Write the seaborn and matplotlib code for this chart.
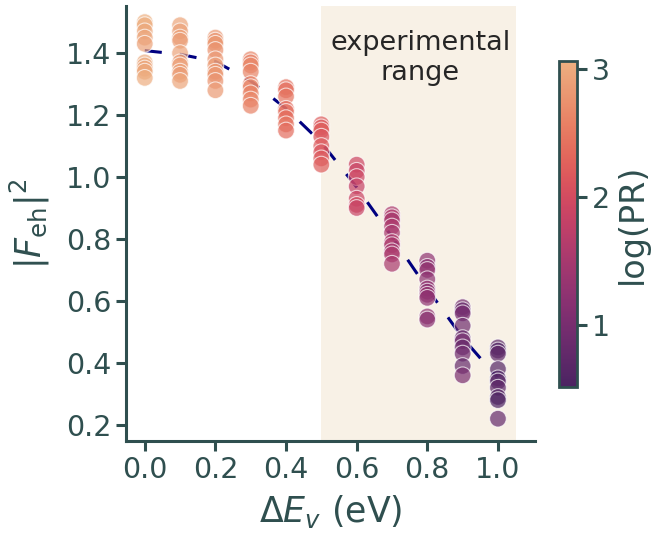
import numpy as np
import pandas as pd
import matplotlib
matplotlib.use("Agg")
import matplotlib.pyplot as plt
import seaborn as sns

# valence band offset values (eV)
delta_ev = [0.0, 0.1, 0.2, 0.3, 0.4, 0.5, 0.6, 0.7, 0.8, 0.9, 1.0]

# |F_eh|^2 samples for each offset
f_eh = [
    [1.50, 1.49, 1.47, 1.45, 1.43, 1.37, 1.36, 1.35, 1.34, 1.32],
    [1.49, 1.47, 1.45, 1.44, 1.40, 1.37, 1.36, 1.34, 1.33, 1.31],
    [1.45, 1.44, 1.43, 1.41, 1.38, 1.36, 1.34, 1.33, 1.31, 1.28],
    [1.38, 1.37, 1.36, 1.34, 1.30, 1.29, 1.27, 1.25, 1.23],
    [1.29, 1.28, 1.26, 1.22, 1.21, 1.19, 1.17, 1.15],
    [1.17, 1.16, 1.15, 1.13, 1.10, 1.08, 1.06, 1.04],
    [1.04, 1.02, 1.00, 0.97, 0.93, 0.91, 0.90],
    [0.88, 0.87, 0.86, 0.84, 0.82, 0.79, 0.78, 0.76, 0.75, 0.72],
    [0.73, 0.71, 0.70, 0.67, 0.64, 0.63, 0.62, 0.61, 0.55, 0.54],
    [0.58, 0.57, 0.56, 0.52, 0.48, 0.47, 0.45, 0.43, 0.39, 0.36],
    [0.45, 0.44, 0.43, 0.38, 0.35, 0.34, 0.32, 0.29, 0.28, 0.22],
]

# log(PR) for each sample (colour)
log_pr = [
    [3.06, 3.02, 2.98, 2.95, 2.92, 3.00, 2.97, 2.94, 2.99, 3.03],
    [2.95, 2.92, 2.90, 2.88, 2.93, 2.85, 2.89, 2.91, 2.86, 2.94],
    [2.80, 2.78, 2.82, 2.75, 2.79, 2.84, 2.77, 2.81, 2.76, 2.83],
    [2.62, 2.58, 2.66, 2.60, 2.55, 2.64, 2.59, 2.63, 2.57],
    [2.42, 2.38, 2.45, 2.35, 2.40, 2.37, 2.44, 2.36],
    [2.20, 2.15, 2.22, 2.12, 2.18, 2.10, 2.16, 2.21],
    [1.90, 1.85, 1.93, 1.82, 1.88, 1.95, 1.86],
    [1.55, 1.60, 1.50, 1.58, 1.52, 1.62, 1.56, 1.48, 1.57, 1.53],
    [1.25, 1.18, 1.30, 1.22, 1.28, 1.20, 1.32, 1.24, 1.27, 1.19],
    [0.95, 0.82, 1.00, 0.90, 0.78, 0.97, 0.85, 0.92, 0.80, 1.02],
    [0.70, 0.58, 0.75, 0.62, 0.52, 0.68, 0.72, 0.60, 0.55, 0.78],
]

rows = []
for x, ys, cs in zip(delta_ev, f_eh, log_pr):
    for y, c in zip(ys, cs):
        rows.append({"dEv": x, "F": y, "logPR": c})
df = pd.DataFrame(rows)

sns.set_theme(context="talk", style="ticks", font_scale=1.25)
text_col = "darkslategray"
plt.rcParams.update({
    "axes.edgecolor": text_col,
    "axes.labelcolor": text_col,
    "xtick.color": text_col,
    "ytick.color": text_col,
    "text.color": text_col,
    "axes.linewidth": 2.2,
    "xtick.major.width": 2.2,
    "ytick.major.width": 2.2,
    "xtick.major.size": 7,
    "ytick.major.size": 7,
    "xtick.labelsize": 20.5,
    "ytick.labelsize": 20.5,
    "axes.labelsize": 25,
})
plt.rcParams["font.family"] = ["DejaVu Sans"]

fig = plt.figure(figsize=(6.52, 5.35), dpi=100)
ax = fig.add_axes([0.1933, 0.1757, 0.6273, 0.8131])

vmin, vmax = df["logPR"].min(), df["logPR"].max()

# shaded experimental window
ax.axvspan(0.5, 1.05, color="#f8f1e6", zorder=0, lw=0)

sns.lineplot(data=df, x="dEv", y="F", errorbar=None, color="navy",
             ls=(0, (5.6, 5.9)), lw=2.2, ax=ax, zorder=2)
sns.scatterplot(data=df, x="dEv", y="F", hue="logPR", palette="flare_r",
                hue_norm=(vmin, vmax), alpha=0.7, s=145, linewidth=0.8,
                edgecolor="white", legend=False, ax=ax, zorder=3)

ax.text(0.78, 1.385, "experimental\nrange", ha="center", va="center",
        fontsize=19.5, color="0.15", multialignment="center")

ax.set_xlim(-0.053, 1.105)
ax.set_ylim(0.148, 1.552)
ax.set_xticks([0.0, 0.2, 0.4, 0.6, 0.8, 1.0])
ax.set_yticks([0.2, 0.4, 0.6, 0.8, 1.0, 1.2, 1.4])
ax.set_xlabel(r"$\Delta E_v$ (eV)", labelpad=7)
ax.set_ylabel(r"$|F_{\mathrm{eh}}|^2$", labelpad=10)
sns.despine(ax=ax)

cax = fig.add_axes([559 / 652, 148 / 535, 18 / 652, 326 / 535])
sm = plt.cm.ScalarMappable(cmap=sns.color_palette("flare_r", as_cmap=True),
                           norm=plt.Normalize(vmin, vmax))
cb = fig.colorbar(sm, cax=cax)
cb.set_ticks([1, 2, 3])
cb.set_label("log(PR)", fontsize=24)
cb.outline.set_edgecolor(text_col)
cb.outline.set_linewidth(2)

fig.savefig("out.png", dpi=100)
